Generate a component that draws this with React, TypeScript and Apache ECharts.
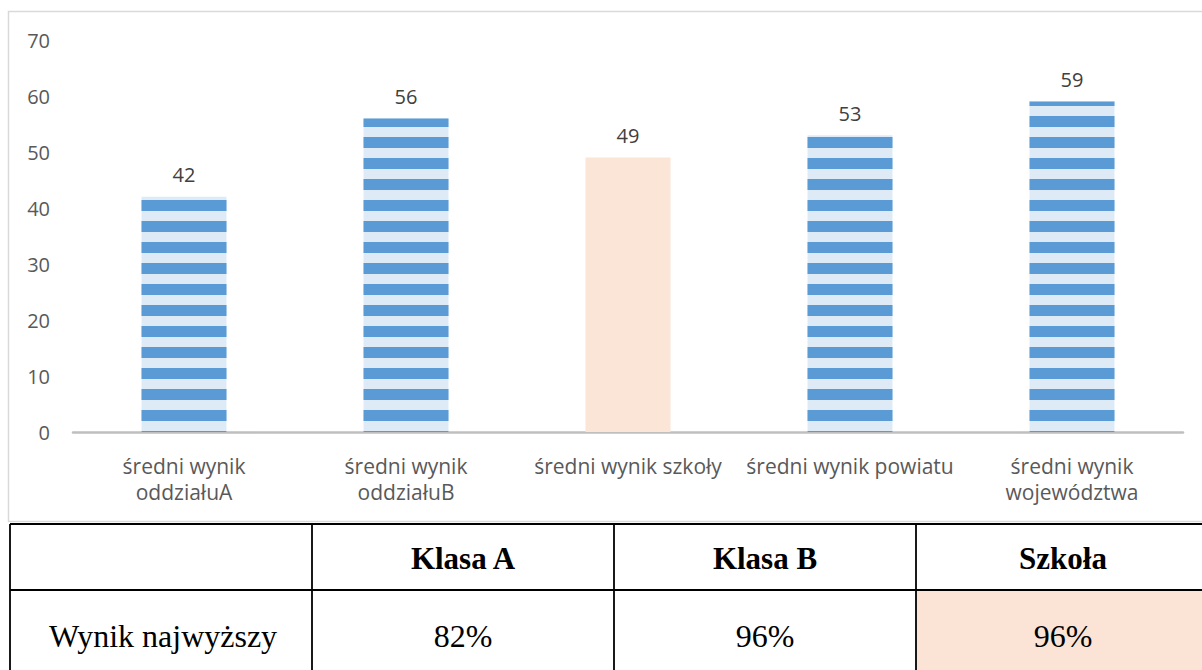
import React, { useEffect, useRef } from "react";
import * as echarts from "echarts";

const categories = [
  "średni wynik oddziałuA",
  "średni wynik oddziałuB",
  "średni wynik szkoły",
  "średni wynik powiatu",
  "średni wynik województwa",
];
const values = [42, 56, 49, 53, 59];
const highlightIndex = 2;
const yMin = 0;
const yMax = 70;
const yInterval = 10;

const tableHeaders = ["Klasa A", "Klasa B", "Szkoła"];
const tableRowLabel = "Wynik najwyższy";
const tableValues = ["82%", "96%", "96%"];
const tableHighlightCol = 2;

const W = 1202;
const H = 670;

export default function App() {
  const ref = useRef<HTMLDivElement>(null);
  useEffect(() => {
    if (!ref.current) return;
    const chart = echarts.init(ref.current, undefined, { renderer: "svg" });

    const stripe = {
      symbol: "rect",
      symbolSize: 1,
      symbolKeepAspect: false,
      color: "#5b9bd5",
      dashArrayX: [1, 0],
      dashArrayY: [1, 10, 10, 0],
      rotation: 0,
    };

    const data = values.map((v, i) =>
      i === highlightIndex
        ? { value: v, itemStyle: { color: "#fbe5d6", decal: "none" as any } }
        : { value: v, itemStyle: { color: "#deebf7", decal: stripe } }
    );

    const tLeft = 10;
    const colX = [10, 312, 614, 916, 1210];
    const rowY = [524, 590, 680];
    const serif = "'Liberation Serif', 'Times New Roman', serif";
    const elements: any[] = [];
    elements.push({
      type: "rect",
      shape: { x: 8.5, y: 11.5, width: 1210, height: 510 },
      style: { fill: "none", stroke: "#d9d9d9", lineWidth: 1.5 },
      z: 0,
    });
    elements.push({
      type: "rect",
      shape: {
        x: colX[tableHighlightCol + 1],
        y: rowY[1],
        width: colX[tableHighlightCol + 2] - colX[tableHighlightCol + 1],
        height: rowY[2] - rowY[1],
      },
      style: { fill: "#fbe4d5" },
      z: 1,
    });
    rowY.slice(0, 2).forEach((y) => {
      elements.push({
        type: "line",
        shape: { x1: tLeft, y1: y, x2: W + 10, y2: y },
        style: { stroke: "#000", lineWidth: 1.8 },
        z: 3,
      });
    });
    colX.slice(0, 4).forEach((x) => {
      elements.push({
        type: "line",
        shape: { x1: x, y1: rowY[0], x2: x, y2: H + 10 },
        style: { stroke: "#000", lineWidth: 1.8 },
        z: 3,
      });
    });
    tableHeaders.forEach((h, i) => {
      elements.push({
        type: "text",
        style: {
          text: h,
          x: (colX[i + 1] + colX[i + 2]) / 2,
          y: (rowY[0] + rowY[1]) / 2 + 1,
          align: "center",
          verticalAlign: "middle",
          font: "bold 31px " + serif,
          fill: "#000",
        },
        z: 4,
      });
    });
    elements.push({
      type: "text",
      style: {
        text: tableRowLabel,
        x: (colX[0] + colX[1]) / 2 + 2,
        y: 636,
        align: "center",
        verticalAlign: "middle",
        font: "32px " + serif,
        fill: "#000",
      },
      z: 4,
    });
    tableValues.forEach((v, i) => {
      elements.push({
        type: "text",
        style: {
          text: v,
          x: (colX[i + 1] + colX[i + 2]) / 2,
          y: 636,
          align: "center",
          verticalAlign: "middle",
          font: "32px " + serif,
          fill: "#000",
        },
        z: 4,
      });
    });

    chart.setOption({
      animation: false,
      backgroundColor: "#ffffff",
      grid: { left: 73, right: W - 1183, top: 40, bottom: H - 432, containLabel: false },
      xAxis: {
        type: "category",
        data: categories,
        axisLine: { show: true, lineStyle: { color: "#bfbfbf", width: 2.5 } },
        axisTick: { show: false },
        axisLabel: {
          interval: 0,
          margin: 21,
          color: "#595959",
          fontFamily: "'Open Sans', sans-serif",
          fontSize: 21,
          lineHeight: 26,
          formatter: (v: string) => (v.length > 20 ? v.replace("wynik ", "wynik\n") : v),
        },
      },
      yAxis: {
        type: "value",
        min: yMin,
        max: yMax,
        interval: yInterval,
        axisLine: { show: false },
        axisTick: { show: false },
        splitLine: { show: false },
        axisLabel: {
          margin: 23,
          color: "#595959",
          fontFamily: "'Open Sans', sans-serif",
          fontSize: 20,
        },
      },
      series: [
        {
          type: "bar",
          data,
          barWidth: 85,
          label: {
            show: true,
            position: "top",
            distance: 12,
            color: "#404040",
            fontFamily: "'Open Sans', sans-serif",
            fontSize: 20,
          },
        },
      ],
      graphic: { elements },
    });
    return () => chart.dispose();
  }, []);
  return (
    <div
      ref={ref}
      style={{ position: "absolute", left: 0, top: 0, width: W, height: H }}
    />
  );
}
